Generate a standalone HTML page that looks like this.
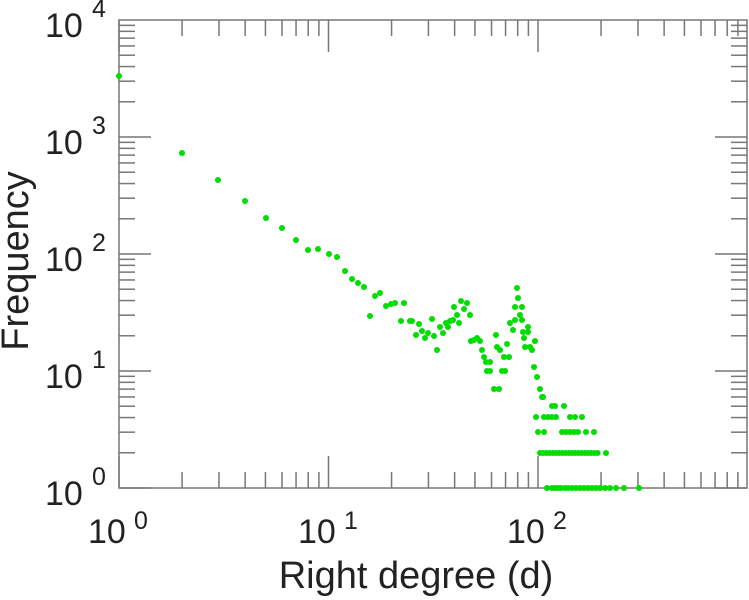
<!DOCTYPE html>
<html><head><meta charset="utf-8"><style>
html,body{margin:0;padding:0;background:#fff;width:749px;height:600px;overflow:hidden}
svg{display:block}
text{font-family:"Liberation Sans",sans-serif;fill:#222}
</style></head><body>
<svg width="749" height="600" viewBox="0 0 749 600" xmlns="http://www.w3.org/2000/svg">
<g id="ticks" stroke="#777" stroke-width="1.5" fill="none"></g>
<rect x="119" y="20" width="628" height="468" fill="none" stroke="#777" stroke-width="1.5"/>
<g id="pts" fill="#00dd00"></g>
<g font-size="34">
<text x="45" y="37">10</text><text x="92" y="17" font-size="25">4</text>
<text x="45" y="154">10</text><text x="92" y="134" font-size="25">3</text>
<text x="45" y="271">10</text><text x="92" y="251" font-size="25">2</text>
<text x="45" y="388">10</text><text x="92" y="368" font-size="25">1</text>
<text x="45" y="505">10</text><text x="92" y="485" font-size="25">0</text>
<text x="88" y="543">10</text><text x="134" y="529" font-size="25">0</text>
<text x="298" y="543">10</text><text x="344" y="529" font-size="25">1</text>
<text x="507" y="543">10</text><text x="553" y="529" font-size="25">2</text>
<text x="416" y="588" text-anchor="middle" font-size="38">Right degree (d)</text>
<text transform="translate(28,261) rotate(-90)" text-anchor="middle" font-size="38">Frequency</text>
</g>
<script>
var ns="http://www.w3.org/2000/svg";
var t=document.getElementById("ticks"),L=119,R=747,T=20,B=488,dx=209.5,dy=117;
function ln(a,b,c,d){var e=document.createElementNS(ns,"line");e.setAttribute("x1",a);e.setAttribute("y1",b);e.setAttribute("x2",c);e.setAttribute("y2",d);t.appendChild(e);}
for(var k=0;k<3;k++)for(var m=1;m<10;m++){var x=L+dx*(k+Math.log10(m));if(x>R)continue;var len=m==1?32:16;ln(x,B,x,B-len);ln(x,T,x,T+len);}
for(var k=0;k<4;k++)for(var m=1;m<10;m++){var y=B-dy*(k+Math.log10(m));var len=m==1?32:16;ln(L,y,L+len,y);ln(R,y,R-len,y);}
var P=[[119,76],[182,153],[218,180],[245,201],[266,218],[282,228],[296,240],[308,250],[318,249],[329,254],[337,257],[345,271],[352,279],[358,283],[364,287],[370,316],[375,296],[380,293],[386,306],[391,304],[395,303],
[404,303],[401,321],[410,321],[412,321],[419,324],[422,331],[416,335],[425,338],[428,333],[432,319],[434,336],[437,350],[440,327],[443,333],[446,323],[448,327],[450,321],[453,320],[454,307],[457,315],[459,323],[461,301],[464,309],[467,303],[470,315],[471,341],[474,340],[477,338],[480,341],[482,350],[484,357],[486,362],[490,362],[487,371],[490,371],[496,335],[497,347],[500,350],[502,371],[505,371],[494,389],[499,389],[504,357],[507,344],[509,357],[510,323],[513,330],[515,320],[517,288],[518,298],[515,307],[522,307],[520,315],[522,320],[523,332],[528,327],[528,332],[524,338],[525,347],[530,347],[532,350],[535,341],[534,367],[537,377],[540,389],[542,397],[543,397],[552,406],[555,406],[564,406],
[536,417],[544,417],[548,417],[552,417],[556,417],[570,417],[575,417],[582,417],
[538,432],[544,432],[562,432],[566,432],[570,432],[574,432],[578,432],[586,432],[594,432]];
for(var x=540;x<=600;x+=3.2)P.push([x,453]);P.push([606,453]);
[547,552,555,558,561,565,568,572,576,580,584,588,592,596,600,605,610,616,624,639].forEach(function(x){P.push([x,488])});
var g=document.getElementById("pts");
P.forEach(function(p){var c=document.createElementNS(ns,"circle");c.setAttribute("cx",p[0]);c.setAttribute("cy",p[1]);c.setAttribute("r",3);g.appendChild(c);});
</script>
</svg>
</body></html>
